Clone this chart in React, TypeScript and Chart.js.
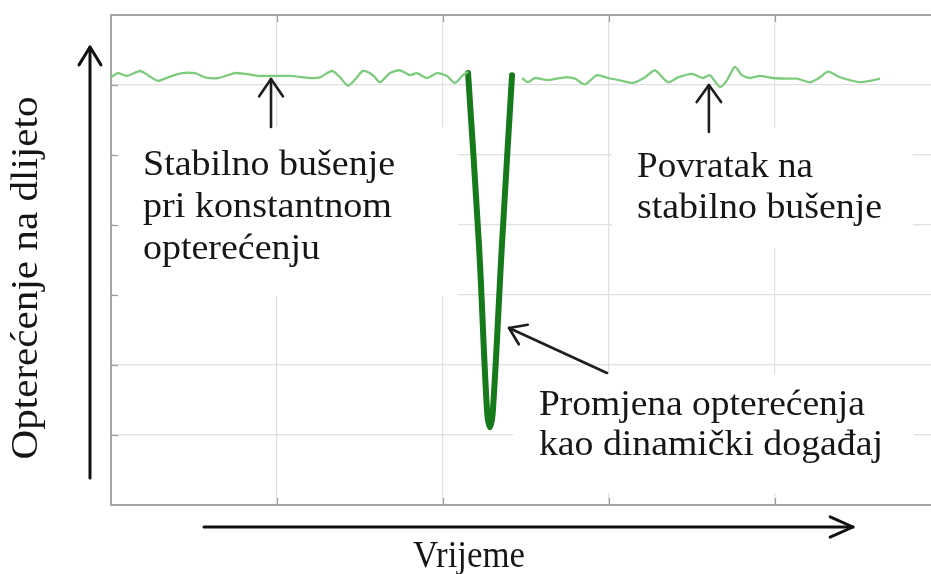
import React, { useEffect, useRef } from 'react';
import { Chart, registerables } from 'chart.js';

Chart.register(...registerables);

// ---- Data (time on x, bit load on y) ----
const stableBeforeTime = [0, 0.42, 0.96, 1.75, 2.23, 2.83, 3.43, 4.28, 5.06, 5.66, 6.45, 7.47, 8.07, 8.86, 9.7, 10.78, 11.99, 12.59, 13.31, 13.8, 14.28, 14.82, 15.18, 15.78, 16.2, 16.81, 17.41, 18.01, 18.43, 19.04, 19.64, 20.24, 20.72, 21.2, 21.51];
const stableBeforeLoad = [61.1, 61.7, 61.3, 62.0, 61.4, 60.6, 61.1, 61.7, 61.7, 61.1, 61.0, 61.7, 61.6, 61.3, 61.3, 61.3, 61.0, 61.1, 62.0, 61.1, 59.9, 61.1, 62.0, 61.4, 60.4, 61.7, 62.1, 61.4, 61.7, 61.0, 61.7, 61.3, 60.3, 61.4, 61.9];

const dipTime = [21.51, 22.17, 22.65, 22.83, 23.01, 23.55, 24.16];
const dipLoad = [61.7, 37.1, 13.6, 11.1, 13.6, 37.1, 61.4];

const stableAfterTime = [24.76, 25.12, 25.54, 26.33, 27.35, 27.95, 28.55, 29.28, 29.94, 30.78, 31.45, 32.17, 32.77, 33.55, 34.16, 35.0, 35.66, 36.08, 36.69, 37.11, 37.59, 38.01, 38.49, 39.1, 39.88, 40.72, 41.33, 42.11, 42.71, 43.19, 43.92, 44.52, 45.12, 45.72, 46.33];
const stableAfterLoad = [61.0, 60.4, 61.0, 60.7, 61.1, 60.9, 60.1, 61.4, 61.0, 60.6, 60.3, 61.1, 62.1, 60.4, 61.1, 61.6, 61.0, 61.4, 59.7, 60.7, 62.6, 61.4, 61.0, 61.3, 61.0, 60.9, 60.9, 60.4, 61.1, 61.9, 61.1, 60.7, 60.4, 60.6, 60.9];

const xMin = 0;
const xMax = 49.4;
const xStep = 10;
const yMin = 0;
const yMax = 70;
const yStep = 10;

// ---- Text ----
const yAxisTitle = 'Opterećenje na dlijeto';
const xAxisTitle = 'Vrijeme';
const noteStable = ['Stabilno bušenje', 'pri konstantnom', 'opterećenju'];
const noteReturn = ['Povratak na', 'stabilno bušenje'];
const noteEvent = ['Promjena opterećenja', 'kao dinamički događaj'];

const FONT = '"Liberation Serif", serif';

const toPoints = (xs: number[], ys: number[]) => xs.map((x, i) => ({ x, y: ys[i] }));

function drawArrow(ctx: CanvasRenderingContext2D, x1: number, y1: number, x2: number, y2: number, len: number, ang: number, lw: number, color: string) {
  ctx.save();
  ctx.strokeStyle = color;
  ctx.lineWidth = lw;
  ctx.lineCap = 'round';
  ctx.lineJoin = 'round';
  ctx.beginPath();
  ctx.moveTo(x1, y1);
  ctx.lineTo(x2, y2);
  ctx.stroke();
  const a = Math.atan2(y1 - y2, x1 - x2);
  ctx.beginPath();
  ctx.moveTo(x2 + len * Math.cos(a + ang), y2 + len * Math.sin(a + ang));
  ctx.lineTo(x2, y2);
  ctx.lineTo(x2 + len * Math.cos(a - ang), y2 + len * Math.sin(a - ang));
  ctx.stroke();
  ctx.restore();
}

function fitText(ctx: CanvasRenderingContext2D, text: string, x: number, y: number, width: number, size: number, rotate = false, align: CanvasTextAlign = 'left') {
  ctx.save();
  ctx.font = `${size}px ${FONT}`;
  ctx.fillStyle = '#161616';
  ctx.textAlign = align;
  ctx.textBaseline = 'alphabetic';
  const w = ctx.measureText(text).width;
  ctx.translate(x, y);
  if (rotate) ctx.rotate(-Math.PI / 2);
  ctx.scale(width / w, 1);
  ctx.fillText(text, 0, 0);
  ctx.restore();
}

const annotatePlugin = {
  id: 'annotate',
  beforeDatasetsDraw(chart: any) {
    const { ctx, scales } = chart;
    const xs = scales.x;
    const ys = scales.y;
    const X = (v: number) => xs.getPixelForValue(v);
    const Y = (v: number) => ys.getPixelForValue(v);
    // white text boxes hiding the grid behind the notes (data coords)
    const boxes = [
      [0.18, 20.9, 54.0, 29.8],
      [30.18, 48.31, 53.86, 36.71],
      [24.22, 48.37, 18.71, 1.71],
    ];
    ctx.save();
    ctx.fillStyle = '#ffffff';
    boxes.forEach(([a, b, c, d]) => {
      const x0 = X(a), x1 = X(b), y0 = Y(c), y1 = Y(d);
      ctx.fillRect(Math.min(x0, x1), Math.min(y0, y1), Math.abs(x1 - x0), Math.abs(y1 - y0));
    });
    // inward tick marks
    const area = chart.chartArea;
    ctx.strokeStyle = '#9c9c9c';
    ctx.lineWidth = 1.2;
    ys.ticks.forEach((t: any) => {
      if (t.value <= yMin || t.value >= yMax) return;
      const py = Math.round(Y(t.value)) + 0.5;
      ctx.beginPath();
      ctx.moveTo(area.left, py);
      ctx.lineTo(area.left + 7, py);
      ctx.stroke();
    });
    xs.ticks.forEach((t: any) => {
      if (t.value <= xMin || t.value >= xMax - 1) return;
      const px = Math.round(X(t.value)) + 0.5;
      ctx.beginPath();
      ctx.moveTo(px, area.bottom);
      ctx.lineTo(px, area.bottom - 7);
      ctx.moveTo(px, area.top);
      ctx.lineTo(px, area.top + 7);
      ctx.stroke();
    });
    ctx.restore();
  },
  afterDraw(chart: any) {
    const { ctx, scales, chartArea } = chart;
    const X = (v: number) => scales.x.getPixelForValue(v);
    const Y = (v: number) => scales.y.getPixelForValue(v);
    const ink = '#1e1e1e';

    // axis arrows (outside the plot)
    drawArrow(ctx, chartArea.left - 21, chartArea.bottom - 27, chartArea.left - 21, chartArea.top + 32, 21, 0.55, 3, '#111');
    drawArrow(ctx, chartArea.left + 93, chartArea.bottom + 22, chartArea.left + 742, chartArea.bottom + 22, 25, 0.42, 3, '#111');

    // axis titles
    fitText(ctx, yAxisTitle, chartArea.left - 74, (chartArea.top + chartArea.bottom) / 2 + 18, 363, 37, true, 'center');
    fitText(ctx, xAxisTitle, chartArea.left + 302, chartArea.bottom + 62, 112, 37);

    // notes
    const s = 35;
    fitText(ctx, noteStable[0], X(1.93), Y(47.14), 252, s);
    fitText(ctx, noteStable[1], X(1.93), Y(41.14), 249, s);
    fitText(ctx, noteStable[2], X(1.93), Y(35.14), 177, s);
    fitText(ctx, noteReturn[0], X(31.69), Y(46.86), 176, s);
    fitText(ctx, noteReturn[1], X(31.69), Y(41.0), 245, s);
    fitText(ctx, noteEvent[0], X(25.78), Y(12.86), 326, s);
    fitText(ctx, noteEvent[1], X(25.78), Y(7.14), 344, s);

    // pointer arrows
    drawArrow(ctx, X(9.64), Y(54.0), X(9.64), Y(60.86), 21, 0.6, 2.6, ink);
    drawArrow(ctx, X(36.02), Y(53.29), X(36.02), Y(60.0), 21, 0.62, 2.6, ink);
    drawArrow(ctx, X(29.88), Y(18.86), X(23.98), Y(25.29), 19, 0.6, 2.6, ink);
  },
};

export default function App() {
  const ref = useRef<HTMLCanvasElement | null>(null);

  useEffect(() => {
    if (!ref.current) return;
    const chart = new Chart(ref.current, {
      type: 'scatter',
      data: {
        datasets: [
          {
            data: toPoints(stableBeforeTime, stableBeforeLoad),
            showLine: true,
            borderColor: '#7dcb7d',
            borderWidth: 2.3,
            pointRadius: 0,
            tension: 0.25,
          },
          {
            data: toPoints(stableAfterTime, stableAfterLoad),
            showLine: true,
            borderColor: '#7dcb7d',
            borderWidth: 2.3,
            pointRadius: 0,
            tension: 0.25,
          },
          {
            data: toPoints(dipTime, dipLoad),
            showLine: true,
            borderColor: '#177a1a',
            borderWidth: 6,
            borderCapStyle: 'round',
            borderJoinStyle: 'round',
            pointRadius: 0,
            tension: 0.35,
          },
        ],
      } as any,
      options: {
        responsive: false,
        animation: false,
        events: [],
        layout: { padding: { left: 111, top: 15, right: 0, bottom: 69 } },
        plugins: {
          legend: { display: false },
          tooltip: { enabled: false },
          title: { display: false },
        },
        scales: {
          x: {
            type: 'linear',
            min: xMin,
            max: xMax,
            ticks: { display: false, stepSize: xStep },
            grid: {
              drawTicks: false,
              color: (c: any) => (c.tick && c.tick.value > xMax - 1 ? 'rgba(0,0,0,0)' : '#e0e0e0'),
              lineWidth: 1.2,
            },
            border: { display: true, color: '#a6a6a6', width: 2 },
          },
          y: {
            type: 'linear',
            min: yMin,
            max: yMax,
            ticks: { display: false, stepSize: yStep },
            grid: {
              drawTicks: false,
              color: (c: any) => (c.tick && c.tick.value >= yMax ? '#a6a6a6' : '#e0e0e0'),
              lineWidth: (c: any) => (c.tick && c.tick.value >= yMax ? 2 : 1.2),
            },
            border: { display: true, color: '#a6a6a6', width: 2 },
          },
        },
      } as any,
      plugins: [annotatePlugin],
    });
    return () => chart.destroy();
  }, []);

  return (
    <div style={{ position: 'fixed', left: 0, top: 0, width: 931, height: 574, background: '#fff', overflow: 'hidden' }}>
      <canvas ref={ref} width={931} height={574} style={{ display: 'block' }} />
    </div>
  );
}
